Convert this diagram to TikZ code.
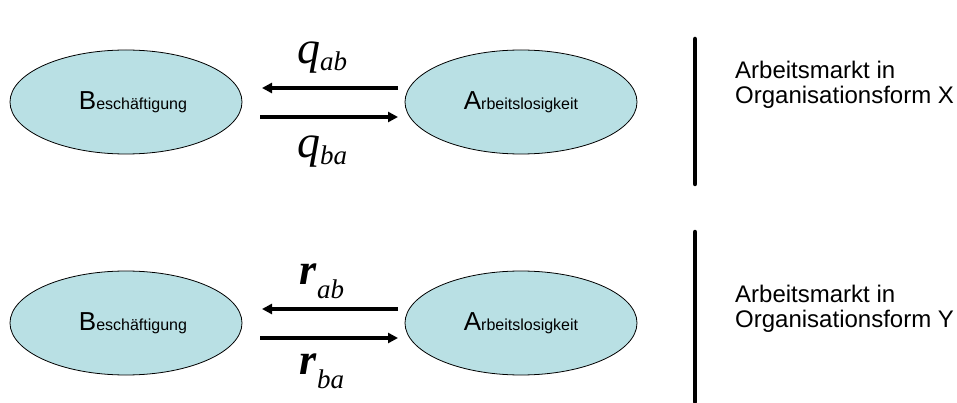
\documentclass[tikz,border=0pt]{standalone}
\usepackage{fontspec}
\setmainfont{Liberation Sans}
\newfontfamily\lserif{Liberation Serif}
\usetikzlibrary{shapes.geometric,arrows.meta}
\definecolor{ellfill}{RGB}{185,224,228}
\tikzset{
  state/.style={ellipse, draw=black, line width=0.8pt, fill=ellfill, minimum width=232pt, minimum height=104pt, inner sep=0pt},
  flow/.style={line width=3.2pt, -{Triangle[length=10pt,width=10pt]}},
  bar/.style={line width=4.5pt, line cap=round},
  rate/.style={inner sep=0pt, anchor=base},
  side/.style={align=left, anchor=west, font=\fontsize{24}{25}\selectfont, inner sep=0pt}
}
\newcommand{\bigsmall}[2]{{\fontsize{26}{26}\selectfont #1}{\fontsize{16}{16}\selectfont #2}}
\begin{document}
\begin{tikzpicture}[x=1pt,y=-1pt]
\useasboundingbox (0,0) rectangle (957,403);
% top row
\node[state] (b1) at (126,102) {\hspace*{14pt}\bigsmall{B}{eschäftigung}};
\node[state] (a1) at (521,102) {\bigsmall{A}{rbeitslosigkeit}};
\coordinate (t1r) at (398,88); \coordinate (t1l) at (262,88);
\coordinate (u1l) at (260,117); \coordinate (u1r) at (398,117);
\draw[flow] (t1r) -- (t1l);
\draw[flow] (u1l) -- (u1r);
\node[rate] (qab) at (322,64) {\lserif\itshape{\fontsize{46}{46}\selectfont q}\raisebox{-7pt}{\fontsize{27}{27}\selectfont ab}};
\node[rate] (qba) at (322,158) {\lserif\itshape{\fontsize{46}{46}\selectfont q}\raisebox{-7pt}{\fontsize{27}{27}\selectfont ba}};
\coordinate (bar1t) at (695,39); \coordinate (bar1b) at (695,184);
\draw[bar] (bar1t) -- (bar1b);
\node[side] (lx) at (735,85) {Arbeitsmarkt in\\Organisationsform X};
% bottom row
\node[state] (b2) at (126,323) {\hspace*{14pt}\bigsmall{B}{eschäftigung}};
\node[state] (a2) at (521,323) {\bigsmall{A}{rbeitslosigkeit}};
\coordinate (t2r) at (398,309); \coordinate (t2l) at (262,309);
\coordinate (u2l) at (260,338); \coordinate (u2r) at (398,338);
\draw[flow] (t2r) -- (t2l);
\draw[flow] (u2l) -- (u2r);
\node[rate] (rab) at (322,284) {\lserif\itshape\bfseries{\fontsize{44}{44}\selectfont r}\raisebox{-14pt}{\fontsize{27}{27}\selectfont\mdseries ab}};
\node[rate] (rba) at (322,374) {\lserif\itshape\bfseries{\fontsize{44}{44}\selectfont r}\raisebox{-14pt}{\fontsize{27}{27}\selectfont\mdseries ba}};
\coordinate (bar2t) at (695,232); \coordinate (bar2b) at (695,402);
\draw[bar] (bar2t) -- (bar2b);
\node[side] (ly) at (735,309) {Arbeitsmarkt in\\Organisationsform Y};
\end{tikzpicture}
\end{document}
